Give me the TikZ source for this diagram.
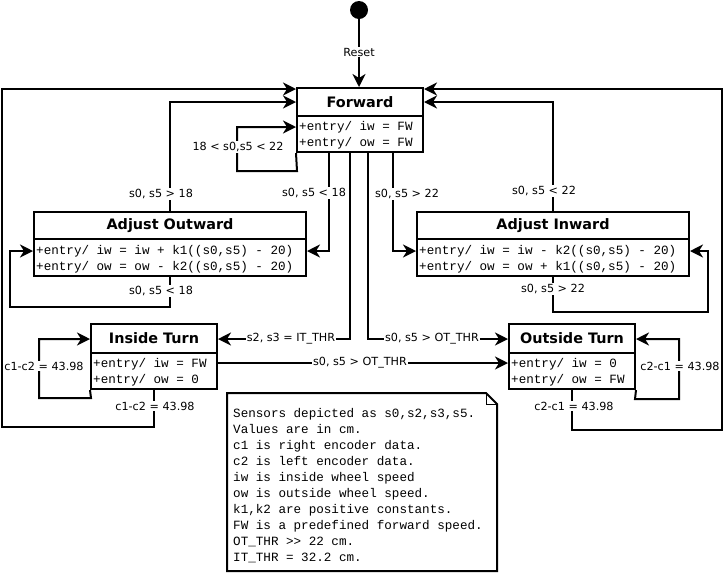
\documentclass[tikz,border=0pt]{standalone}
\usepackage{fontspec}
\setmainfont{DejaVu Sans}
\newfontfamily\codefont{Liberation Mono}
\usetikzlibrary{arrows.meta}
\begin{document}
\begin{tikzpicture}[x=1pt,y=-1pt,
  wire/.style={line width=2pt},
  arr/.style={wire,-{Stealth[length=13pt,width=13pt,inset=4pt]}},
  statebox/.style={draw,line width=2pt,inner sep=0pt,fill=white},
  title/.style={font=\bfseries\fontsize{14.4}{14.4}\selectfont,inner sep=0pt},
  entry/.style={font=\codefont\fontsize{12.6}{12.6}\selectfont,anchor=west,inner sep=0pt},
  lbl/.style={font=\fontsize{11.2}{11.2}\selectfont,fill=white,inner sep=1pt},
  notetext/.style={font=\codefont\fontsize{12.6}{16}\selectfont,anchor=north west,inner sep=0pt,align=left}]
\useasboundingbox (0,0) rectangle (725,574);
\fill[white] (0,0) rectangle (725,574);

% states
\node[statebox,minimum width=126pt,minimum height=64pt] (fw) at (360,120) {};
\node[statebox,minimum width=272pt,minimum height=64pt] (ao) at (170,244) {};
\node[statebox,minimum width=272pt,minimum height=64pt] (ai) at (553,244) {};
\node[statebox,minimum width=126pt,minimum height=65pt] (it) at (154,356.5) {};
\node[statebox,minimum width=126pt,minimum height=65pt] (ot) at (572,356.5) {};

% compartments
\draw[wire] (fw.west |- 0,116) -- (fw.east |- 0,116);
\draw[wire] (ao.west |- 0,239) -- (ao.east |- 0,239);
\draw[wire] (ai.west |- 0,239) -- (ai.east |- 0,239);
\draw[wire] (it.west |- 0,353) -- (it.east |- 0,353);
\draw[wire] (ot.west |- 0,353) -- (ot.east |- 0,353);

\node[title] (fwT) at (360,102) {Forward};
\node[entry] (fw1) at (299,127) {+entry/ iw = FW};
\node[entry] (fw2) at (299,143) {+entry/ ow = FW};

\node[title] (aoT) at (170,225.5) {Adjust Outward};
\node[entry] (ao1) at (36,251) {+entry/ iw = iw + k1((s0,s5) - 20)};
\node[entry] (ao2) at (36,267) {+entry/ ow = ow - k2((s0,s5) - 20)};

\node[title] (aiT) at (553,225.5) {Adjust Inward};
\node[entry] (ai1) at (419,251) {+entry/ iw = iw - k2((s0,s5) - 20)};
\node[entry] (ai2) at (419,267) {+entry/ ow = ow + k1((s0,s5) - 20)};

\node[title] (itT) at (154,338.5) {Inside Turn};
\node[entry] (it1) at (93,364) {+entry/ iw = FW};
\node[entry] (it2) at (93,380) {+entry/ ow = 0};

\node[title] (otT) at (572,338.5) {Outside Turn};
\node[entry] (ot1) at (511,364) {+entry/ iw = 0};
\node[entry] (ot2) at (511,380) {+entry/ ow = FW};

% initial state
\node[circle,fill=black,minimum size=18pt,inner sep=0pt] (init) at (359,10) {};
\draw[arr] (init) -- (init |- fw.north);
\node[lbl] (reset) at (359,52) {Reset};

% Forward self loop
\draw[arr] (fw.south west) -- (297,171) -- (237,171) -- (237,127) -- (fw.west |- 0,127);
\node[lbl] at (238,147) {18 < s0,s5 < 22};

% Forward -> Adjust Outward
\draw[arr] (fw.south -| 329,0) -- (329,251) -- (ao.east |- 0,251);
\node[lbl] at (314,193) {s0, s5 < 18};

% Adjust Outward -> Forward
\draw[arr] (ao.north -| 170,0) -- (170,102) -- (fw.west |- 0,102);
\node[lbl] at (161,194) {s0, s5 > 18};

% Adjust Outward self loop
\draw[arr] (ao.south -| 170,0) -- (170,307) -- (10,307) -- (10,251) -- (ao.west |- 0,251);
\node[lbl] at (161,291) {s0, s5 < 18};

% Forward -> Adjust Inward
\draw[arr] (fw.south -| 393,0) -- (393,251) -- (ai.west |- 0,251);
\node[lbl] at (407,194) {s0, s5 > 22};

% Adjust Inward -> Forward
\draw[arr] (ai.north -| 553,0) -- (553,102) -- (fw.east |- 0,102);
\node[lbl] at (544,191) {s0, s5 < 22};

% Adjust Inward self loop
\draw[arr] (ai.south -| 553,0) -- (553,312) -- (708,312) -- (708,251) -- (ai.east |- 0,251);
\node[lbl] at (553,289) {s0, s5 > 22};

% Forward -> Inside Turn
\draw[arr] (fw.south -| 350,0) -- (350,339) -- (it.east |- 0,339);
\node[lbl] at (291,339) {s2, s3 = IT\_THR};

% Forward -> Outside Turn
\draw[arr] (fw.south -| 368,0) -- (368,339) -- (ot.west |- 0,339);
\node[lbl] at (432,339) {s0, s5 > OT\_THR};

% Inside Turn -> Outside Turn
\draw[arr] (it.east |- 0,363) -- (ot.west |- 0,363);
\node[lbl] at (360,363) {s0, s5 > OT\_THR};

% Inside Turn self loop
\draw[arr] (it.south west) -- (91,398) -- (39,398) -- (39,339) -- (it.west |- 0,339);
\node[lbl] at (44,366) {c1-c2 = 43.98};

% Inside Turn -> Forward
\draw[arr] (it.south) -- (154,427) -- (2,427) -- (2,89) -- (fw.west |- 0,89);
\node[lbl] at (155,406) {c1-c2 = 43.98};

% Outside Turn self loop
\draw[arr] (ot.south east) -- (635,399) -- (679,399) -- (679,339) -- (ot.east |- 0,339);
\node[lbl] at (680,366) {c2-c1 = 43.98};

% Outside Turn -> Forward
\draw[arr] (ot.south) -- (572,430) -- (722,430) -- (722,89) -- (fw.east |- 0,89);
\node[lbl] at (574,406) {c2-c1 = 43.98};

% note
\draw[wire,fill=white,line join=miter] (227,393) -- (486,393) -- (497,404) -- (497,571) -- (227,571) -- cycle;
\draw[line width=1pt] (486,393) -- (486,404) -- (497,404);
\node[notetext] (note) at (233,408) {Sensors depicted as s0,s2,s3,s5.\\
Values are in cm.\\
c1 is right encoder data.\\
c2 is left encoder data.\\
iw is inside wheel speed\\
ow is outside wheel speed.\\
k1,k2 are positive constants.\\
FW is a predefined forward speed.\\
OT\_THR >> 22 cm.\\
IT\_THR = 32.2 cm.};
\end{tikzpicture}
\end{document}
